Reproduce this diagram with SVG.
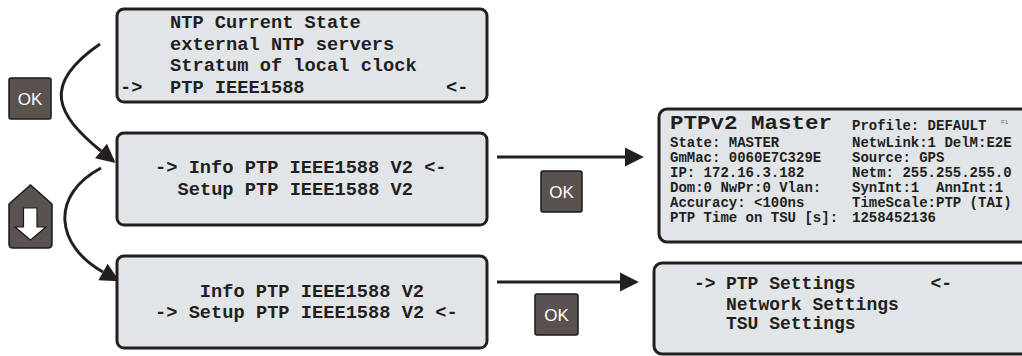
<svg xmlns="http://www.w3.org/2000/svg" width="1022" height="356" viewBox="0 0 1022 356">
<style>
.box{fill:#e2e5e8;stroke:#231f20;stroke-width:3}
.t{font-family:"Liberation Mono","Courier New",monospace;font-weight:bold;fill:#231f20;white-space:pre}
.l{font-size:18.7px}
.m{font-size:18px}
.s{font-size:14px}
.big{font-size:21px}
.btn{fill:#59524f;stroke:#1a1a1a;stroke-width:1.5}
.ok{font-family:"Liberation Sans",Arial,sans-serif;font-size:17px;fill:#ffffff;text-anchor:middle}
.con{fill:none;stroke:#231f20;stroke-width:3}
</style>
<defs>
<marker id="ah" markerUnits="userSpaceOnUse" markerWidth="20" markerHeight="20" viewBox="0 -9 17 18" refX="0" refY="0" orient="auto">
<path d="M0,-8.5 L17,0 L0,8.5 Z" fill="#231f20"/>
</marker>
</defs>
<rect width="1022" height="356" fill="#ffffff"/>

<g id="connectors">
<path class="con" d="M100,44 C40,85 57,115 101,151" marker-end="url(#ah)"/>
<path class="con" d="M101,168 C50,195 55,245 103,272" marker-end="url(#ah)"/>
<path class="con" d="M497,157 L625,157" marker-end="url(#ah)"/>
<path class="con" d="M497,282 L620,282" marker-end="url(#ah)"/>
</g>

<g id="btn-ok-1">
<rect class="btn" x="9" y="78" width="42" height="41" rx="2"/>
<text class="ok" x="30" y="105">OK</text>
</g>
<g id="btn-down">
<path class="btn" d="M9,204 L30.5,185 L52,204 L52,244 Q52,248 48,248 L13,248 Q9,248 9,244 Z"/>
<path d="M23.5,208 L37,208 L37,227 L46,227 L30.5,240 L15,227 L23.5,227 Z" fill="#ffffff" stroke="#1a1a1a" stroke-width="1.2" stroke-linejoin="miter"/>
</g>
<g id="btn-ok-2">
<rect class="btn" x="541" y="171" width="41" height="41" rx="2"/>
<text class="ok" x="561.5" y="198">OK</text>
</g>
<g id="btn-ok-3">
<rect class="btn" x="535" y="294" width="43" height="41" rx="2"/>
<text class="ok" x="556.5" y="321">OK</text>
</g>

<g id="box-ntp-menu">
<rect class="box" x="117" y="9" width="370" height="93" rx="7"/>
<text class="t l" x="170" y="28">NTP Current State</text>
<text class="t l" x="170" y="50">external NTP servers</text>
<text class="t l" x="170" y="71">Stratum of local clock</text>
<text class="t l" x="120" y="93">-&gt;</text>
<text class="t l" x="170" y="93">PTP IEEE1588</text>
<text class="t l" x="446" y="93">&lt;-</text>
</g>

<g id="box-info-selected">
<rect class="box" x="117" y="133" width="370" height="92" rx="7"/>
<text class="t l" x="155" y="173">-&gt; Info PTP IEEE1588 V2 &lt;-</text>
<text class="t l" x="177.5" y="195">Setup PTP IEEE1588 V2</text>
</g>

<g id="box-setup-selected">
<rect class="box" x="117" y="256" width="370" height="92" rx="7"/>
<text class="t l" x="199.8" y="297">Info PTP IEEE1588 V2</text>
<text class="t l" x="155" y="318">-&gt; Setup PTP IEEE1588 V2 &lt;-</text>
</g>

<g id="box-ptpv2-master">
<rect class="box" x="659" y="109" width="380" height="133" rx="8"/>
<text class="t big" x="670" y="128.5" textLength="162" lengthAdjust="spacingAndGlyphs">PTPv2 Master</text>
<text class="t s" x="852" y="130">Profile: DEFAULT</text>
<text x="1001" y="124" font-family="Liberation Sans,Arial,sans-serif" font-size="6" fill="#6b6b6b">F1</text>
<text class="t s" x="670" y="146.5">State: MASTER</text>
<text class="t s" x="852" y="146.5">NetwLink:1 DelM:E2E</text>
<text class="t s" x="670" y="161.5">GmMac: 0060E7C329E</text>
<text class="t s" x="852" y="161.5">Source: GPS</text>
<text class="t s" x="670" y="176.5">IP: 172.16.3.182</text>
<text class="t s" x="852" y="176.5">Netm: 255.255.255.0</text>
<text class="t s" x="670" y="191.5">Dom:0 NwPr:0 Vlan:</text>
<text class="t s" x="852" y="191.5">SynInt:1  AnnInt:1</text>
<text class="t s" x="670" y="206.5">Accuracy: &lt;100ns</text>
<text class="t s" x="852" y="206.5">TimeScale:PTP (TAI)</text>
<text class="t s" x="670" y="221.5">PTP Time on TSU [s]:</text>
<text class="t s" x="852" y="221.5">1258452136</text>
</g>

<g id="box-setup-menu">
<rect class="box" x="654" y="263" width="385" height="91" rx="8"/>
<text class="t m" x="694" y="289">-&gt;</text>
<text class="t m" x="726" y="289">PTP Settings</text>
<text class="t m" x="930.5" y="289">&lt;-</text>
<text class="t m" x="726" y="310">Network Settings</text>
<text class="t m" x="726" y="329">TSU Settings</text>
</g>
</svg>
